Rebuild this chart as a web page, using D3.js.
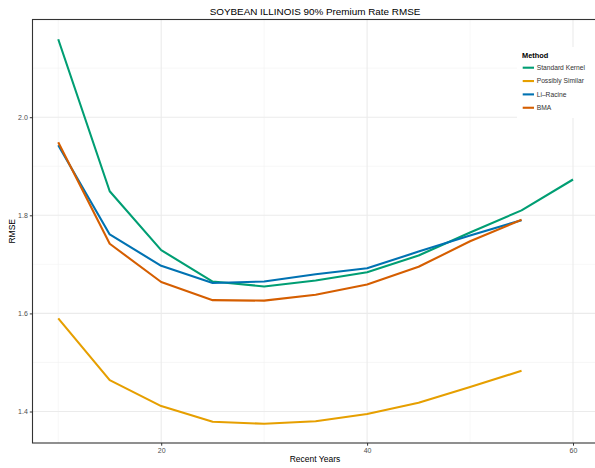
<!DOCTYPE html>
<html>
<head>
<meta charset="utf-8">
<script src="https://cdn.jsdelivr.net/npm/d3@7"></script>
<style>
  body { margin: 0; background: #fff; }
  text { font-family: "Liberation Sans", Arial, sans-serif; }
</style>
</head>
<body>
<div id="main"></div>
<script>
const years = [10, 15, 20, 25, 30, 35, 40, 45, 50, 55, 60];
const methods = ["Standard Kernel", "Possibly Similar", "Li\u2013Racine", "BMA"];
const colors = ["#009E73", "#E69F00", "#0072B2", "#D55E00"];
const standardKernel = [2.159, 1.849, 1.729, 1.665, 1.655, 1.667, 1.684, 1.718, 1.765, 1.810, 1.873];
const possiblySimilar = [1.590, 1.464, 1.411, 1.379, 1.375, 1.380, 1.395, 1.418, 1.450, 1.483];
const liRacine = [1.943, 1.761, 1.697, 1.662, 1.665, 1.680, 1.692, 1.726, 1.759, 1.790];
const bma = [1.949, 1.742, 1.664, 1.627, 1.626, 1.638, 1.659, 1.695, 1.747, 1.791];
const xTicks = [20, 40, 60];
const xMinor = [10, 30, 50];
const yTicks = [1.4, 1.6, 1.8, 2.0];
const yMinor = [1.5, 1.7, 1.9, 2.1];

const seriesValues = [standardKernel, possiblySimilar, liRacine, bma];

onload = () => {
    const W = 595, H = 468;
    const svg = d3.select("#main").append("svg").attr("width", W).attr("height", H);

    const left = 32.5, right = 598.75, top = 19.5, bottom = 443;
    const x = d3.scaleLinear().domain([7.5, 62.5]).range([left, right]);
    const y = d3.scaleLinear().domain([1.3358, 2.1992]).range([bottom, top]);

    const grid = svg.append("g");
    grid.selectAll(".ymin").data(yMinor).enter().append("line")
        .attr("x1", left).attr("x2", right)
        .attr("y1", d => y(d)).attr("y2", d => y(d))
        .attr("stroke", "#f2f2f2").attr("stroke-width", 0.6);
    grid.selectAll(".xmin").data(xMinor).enter().append("line")
        .attr("y1", top).attr("y2", bottom)
        .attr("x1", d => x(d)).attr("x2", d => x(d))
        .attr("stroke", "#f2f2f2").attr("stroke-width", 0.6);
    grid.selectAll(".ymaj").data(yTicks).enter().append("line")
        .attr("x1", left).attr("x2", right)
        .attr("y1", d => y(d)).attr("y2", d => y(d))
        .attr("stroke", "#ebebeb").attr("stroke-width", 1.1);
    grid.selectAll(".xmaj").data(xTicks).enter().append("line")
        .attr("y1", top).attr("y2", bottom)
        .attr("x1", d => x(d)).attr("x2", d => x(d))
        .attr("stroke", "#ebebeb").attr("stroke-width", 1.1);

    const line = d3.line().x(d => x(d[0])).y(d => y(d[1]));
    seriesValues.forEach((vals, i) => {
        svg.append("path")
            .datum(vals.map((v, j) => [years[j], v]))
            .attr("d", line)
            .attr("fill", "none")
            .attr("stroke", colors[i])
            .attr("stroke-width", 2.1)
            .attr("stroke-linejoin", "round");
    });

    // panel border
    svg.append("rect")
        .attr("x", left).attr("y", top)
        .attr("width", right - left).attr("height", bottom - top)
        .attr("fill", "none").attr("stroke", "#333").attr("stroke-width", 1.1);

    const xAxis = svg.append("g")
        .attr("transform", `translate(0, ${bottom})`)
        .call(d3.axisBottom(x).tickValues(xTicks).tickSizeInner(2.7).tickSizeOuter(0).tickPadding(2));
    const yAxis = svg.append("g")
        .attr("transform", `translate(${left}, 0)`)
        .call(d3.axisLeft(y).tickValues(yTicks).tickFormat(d3.format(".1f")).tickSizeInner(2.7).tickSizeOuter(0).tickPadding(2));
    [xAxis, yAxis].forEach(a => {
        a.select(".domain").remove();
        a.selectAll(".tick line").attr("stroke", "#333");
        a.selectAll(".tick text").attr("fill", "#4d4d4d")
            .style("font-size", "7px").style("font-family", "Liberation Sans, Arial, sans-serif");
    });

    svg.append("text")
        .attr("x", 315).attr("y", 15)
        .attr("text-anchor", "middle")
        .style("font-size", "9.9px")
        .text("SOYBEAN ILLINOIS 90% Premium Rate RMSE");
    svg.append("text")
        .attr("x", 315).attr("y", 462)
        .attr("text-anchor", "middle")
        .style("font-size", "8.5px")
        .text("Recent Years");
    svg.append("text")
        .attr("transform", `translate(15, ${(top + bottom) / 2}) rotate(-90)`)
        .attr("text-anchor", "middle")
        .style("font-size", "8.5px")
        .text("RMSE");

    // legend
    const lg = svg.append("g").attr("transform", "translate(517, 47)");
    lg.append("rect").attr("width", 82).attr("height", 71).attr("fill", "#fff");
    lg.append("text").attr("x", 5).attr("y", 10.5)
        .style("font-size", "7.4px").style("font-weight", "bold").text("Method");
    methods.forEach((m, i) => {
        const yy = 20.7 + i * 13.35;
        lg.append("line").attr("x1", 5.7).attr("x2", 17)
            .attr("y1", yy).attr("y2", yy)
            .attr("stroke", colors[i]).attr("stroke-width", 2.1);
        lg.append("text").attr("x", 19.7).attr("y", yy + 2.4)
            .style("font-size", "6.7px").attr("fill", "#333").text(m);
    });
};
</script>
</body>
</html>
